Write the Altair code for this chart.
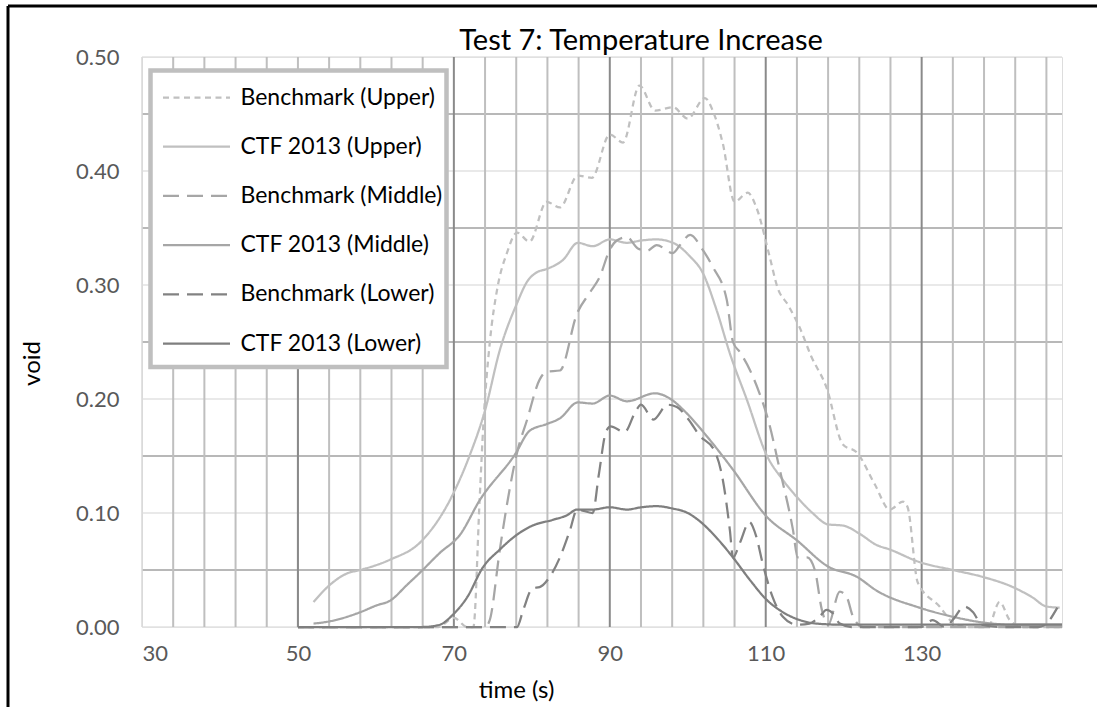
import altair as alt
import pandas as pd

# ---------------- data ----------------
series_names = ["Benchmark (Upper)", "CTF 2013 (Upper)", "Benchmark (Middle)",
                "CTF 2013 (Middle)", "Benchmark (Lower)", "CTF 2013 (Lower)"]
series_colors = ["#c0c0c0", "#c0c0c0", "#a6a6a6", "#a6a6a6", "#828282", "#7f7f7f"]
series_dash = [[6, 4.5], [1, 0], [16, 8], [1, 0], [16, 8], [1, 0]]

bu_x = [50, 60, 68, 70, 71.7, 72.5, 73.3, 73.8, 74.6, 75.6, 76.8, 78.1, 79.7, 81.9, 83.6,
        85.9, 87.7, 90.0, 91.7, 93.8, 95.8, 98.1, 100.0, 102.2, 103.2, 104.5, 106.0,
        107.7, 108.8, 110.5, 111.5, 112.9, 114.4, 115.8, 117.8, 119.9, 121.7, 124.0,
        125.9, 127.6, 128.2, 129.5, 132.3, 134.0, 136.0, 138.5, 140.0, 141.3, 143.0, 148]
bu_y = [0, 0, 0, 0.008, 0.0, 0.0, 0.111, 0.18, 0.249, 0.298, 0.328, 0.346, 0.338, 0.373, 0.368,
        0.396, 0.394, 0.432, 0.425, 0.475, 0.453, 0.456, 0.446, 0.464, 0.453, 0.424, 0.373,
        0.381, 0.368, 0.325, 0.298, 0.282, 0.262, 0.238, 0.21, 0.16, 0.153, 0.125,
        0.103, 0.11, 0.105, 0.039, 0.018, 0.004, 0.0, 0.0, 0.022, 0.006, 0.0, 0.0]

cu_x = [52, 54.1, 56.3, 58, 61.8, 65.8, 69.7, 72.0, 74.0, 75.9, 78.1, 79.4, 80.6, 81.9, 84,
        85.9, 87.8, 90, 92.2, 94, 96, 98.1, 100.3, 101.9, 103.7, 105.4, 107.6, 110.1,
        112.2, 114.4, 116, 118, 119.9, 122, 124.2, 125.9, 129.7, 134, 137.8, 141.7,
        144.2, 146, 147.7]
cu_y = [0.022, 0.037, 0.047, 0.05, 0.059, 0.075, 0.114, 0.15, 0.19, 0.243, 0.284, 0.303, 0.311,
        0.314, 0.322, 0.337, 0.334, 0.34, 0.337, 0.339, 0.34, 0.337, 0.325, 0.311, 0.278,
        0.24, 0.199, 0.151, 0.129, 0.111, 0.1, 0.09, 0.089, 0.082, 0.072, 0.068, 0.057,
        0.05, 0.044, 0.035, 0.026, 0.018, 0.017]

bm_x = [50, 60, 70, 74.0, 74.6, 75.9, 76.9, 78.0, 79.4, 81, 81.9, 83.6, 85.8, 87.4, 88.7,
        90, 90.9, 92.2, 93.6, 94.8, 96, 98.1, 99, 100.3, 101.9, 103.2, 105, 105.8, 106.7,
        108, 109.2, 110.3, 111.8, 113.5, 114.1, 115.3, 116.3, 117.2, 118, 119.5, 120.4,
        121.2, 122.5, 148]
bm_y = [0, 0, 0, 0, 0.006, 0.068, 0.111, 0.15, 0.182, 0.217, 0.224, 0.225, 0.275, 0.293,
        0.307, 0.331, 0.339, 0.342, 0.332, 0.33, 0.335, 0.328, 0.335, 0.344, 0.331, 0.316,
        0.287, 0.25, 0.241, 0.225, 0.205, 0.182, 0.138, 0.085, 0.061, 0.061, 0.05, 0.015,
        0.002, 0.031, 0.026, 0.009, 0.0, 0.0]

cm_x = [52, 54.1, 58, 60.1, 61.8, 64, 66, 67.3, 68.2, 70.8, 73.3, 77.9, 79.7, 81.9, 83.6,
        85.9, 87.8, 90, 92.2, 95.8, 97.8, 99.5, 101.5, 103.2, 105.8, 110.1, 114, 118,
        121.7, 124.2, 129.7, 134, 137.8, 142, 148]
cm_y = [0.003, 0.005, 0.013, 0.019, 0.023, 0.037, 0.05, 0.059, 0.065, 0.081, 0.111, 0.152,
        0.172, 0.178, 0.183, 0.197, 0.196, 0.203, 0.198, 0.205, 0.2, 0.19, 0.175, 0.161,
        0.138, 0.097, 0.076, 0.053, 0.044, 0.032, 0.017, 0.009, 0.004, 0.002, 0.002]

bl_x = [50, 60, 70, 75, 77.6, 78.1, 78.9, 80.1, 81, 82.3, 83.6, 84.9, 85.8, 87.8, 88.6,
        89.5, 90.1, 91.9, 93.3, 94, 95.6, 97.4, 98.6, 100.1, 101.5, 103.4, 104.5, 105.4,
        105.8, 106.7, 107.9, 108.8, 109.6, 110.9, 112.2, 114, 115.6, 116.9, 117.8, 118.6,
        119.5, 121, 130, 131.4, 133, 134.2, 135.4, 136.6, 137.7, 140, 145, 146, 147.4]
bl_y = [0, 0, 0, 0, 0, 0, 0.015, 0.034, 0.035, 0.044, 0.061, 0.085, 0.103, 0.1, 0.134,
        0.171, 0.176, 0.171, 0.189, 0.195, 0.182, 0.195, 0.193, 0.182, 0.168, 0.155,
        0.129, 0.085, 0.061, 0.074, 0.092, 0.079, 0.056, 0.026, 0.009, 0.002, 0.003,
        0.009, 0.015, 0.012, 0.003, 0, 0, 0.006, 0.0, 0.008, 0.018, 0.013, 0.002, 0, 0,
        0.003, 0.017]

cl_x = [50, 60, 66, 68.2, 69.9, 71.7, 73.7, 75.9, 78.1, 80.1, 82.7, 84.5, 85.8, 87.8, 90,
        92.2, 94, 96, 98, 100, 101.5, 103.6, 105.8, 108, 110.1, 112.2, 114.4, 116.5, 120, 148]
cl_y = [0, 0, 0, 0.002, 0.011, 0.026, 0.052, 0.068, 0.081, 0.089, 0.094, 0.098, 0.103,
        0.103, 0.105, 0.103, 0.105, 0.106, 0.104, 0.1, 0.093, 0.079, 0.061, 0.041, 0.024,
        0.013, 0.006, 0.003, 0.002, 0.002]

all_x = [bu_x, cu_x, bm_x, cm_x, bl_x, cl_x]
all_y = [bu_y, cu_y, bm_y, cm_y, bl_y, cl_y]

x_ticks = [30, 50, 70, 90, 110, 130]
y_ticks = [0.0, 0.1, 0.2, 0.3, 0.4, 0.5]
minor_x = [34, 38, 42, 46, 50, 54, 58, 62, 66, 74, 78, 82, 86, 94, 98, 102, 106,
           114, 118, 122, 126, 134, 138, 142, 146]
major_x = [70, 90, 110, 130]
edge_x = [30]
hgrid_dark = [0.05, 0.15, 0.25, 0.35, 0.45]
hgrid_light = [0.0, 0.1, 0.2, 0.3, 0.4, 0.5]
seg50 = {"x": [50], "y": [0.0], "y2": [0.3]}

title_text = ["Test 7: Temperature Increase"]
x_title = "time (s)"
y_title = "void"

# ---------------- build ----------------
rows = []
for name, xs_, ys_ in zip(series_names, all_x, all_y):
    for i, (xv, yv) in enumerate(zip(xs_, ys_)):
        rows.append({"series": name, "x": xv, "y": yv, "i": i})
df = pd.DataFrame(rows)

W, H = 920, 570
FONT = "Lato"
xs = alt.Scale(domain=[30, 148], nice=False, zero=False)
ys = alt.Scale(domain=[0, 0.5], nice=False)

x_axis = alt.Axis(values=x_ticks, format="d", grid=False, domain=False, ticks=False,
                  labelFont=FONT, labelFontSize=22, labelColor="#595959",
                  labelPadding=16, titleFont=FONT, titleFontSize=24,
                  titleFontWeight="normal", titleColor="#000000",
                  titleX=374, titleY=63, titleAlign="center", titleBaseline="middle")
y_axis = alt.Axis(values=y_ticks, format=".2f", grid=False, domain=False, ticks=False,
                  labelFont=FONT, labelFontSize=22, labelColor="#595959",
                  labelPadding=23, titleFont=FONT, titleFontSize=24,
                  titleFontWeight="normal", titleColor="#000000",
                  titleX=-110, titleY=306, titleAngle=270,
                  titleAlign="center", titleBaseline="middle")


def X(field="x"):
    return alt.X(f"{field}:Q", scale=xs, axis=x_axis, title=x_title)


def Y(field="y"):
    return alt.Y(f"{field}:Q", scale=ys, axis=y_axis, title=y_title)


def vrules(vals, color, width):
    return alt.Chart(pd.DataFrame({"x": vals})).mark_rule(color=color, strokeWidth=width).encode(
        x=X())


def hrules(vals, color, width):
    return alt.Chart(pd.DataFrame({"y": vals})).mark_rule(color=color, strokeWidth=width).encode(
        y=Y())


g_hl = hrules(hgrid_light, "#e2e2e2", 1.5)
g_hd = hrules(hgrid_dark, "#b8b8b8", 2)
g_edge = vrules(edge_x, "#d9d9d9", 1.5)
g_minor = vrules(minor_x, "#bfbfbf", 2)
g_major = vrules(major_x, "#8a8a8a", 2)
g_seg = alt.Chart(pd.DataFrame(seg50)).mark_rule(color="#8a8a8a", strokeWidth=2).encode(
    x=X(), y=Y(), y2="y2:Q")

legend = alt.Legend(
    orient="none", legendX=8.5, legendY=13.5, title=None,
    symbolType="stroke", symbolSize=4489, symbolStrokeWidth=2.25,
    labelFont=FONT, labelFontSize=23, labelColor="#000000", labelOffset=9,
    labelLimit=500, padding=11, rowPadding=17.2, clipHeight=32,
    strokeColor="transparent", fillColor="transparent",
)

lines = alt.Chart(df).mark_line(interpolate="monotone", strokeWidth=2.25).encode(
    x=X(), y=Y(),
    color=alt.Color("series:N", scale=alt.Scale(domain=series_names, range=series_colors),
                    legend=legend),
    strokeDash=alt.StrokeDash("series:N",
                              scale=alt.Scale(domain=series_names, range=series_dash),
                              legend=legend),
    order="i:Q",
)

# legend box (drawn under the legend entries, over the data lines)
legend_box = alt.Chart(pd.DataFrame({"a": [0]})).mark_rect(
    fill="#ffffff", stroke="#bfbfbf", strokeWidth=4.5
).encode(x=alt.value(8.5), x2=alt.value(304.5), y=alt.value(13.5), y2=alt.value(310))

title_mark = alt.Chart(pd.DataFrame({"t": title_text})).mark_text(
    font=FONT, fontSize=29, color="#000000", align="center", baseline="alphabetic"
).encode(text="t:N", x=alt.value(499), y=alt.value(-7))

border_df = pd.DataFrame({"a": [0]})
border_left = alt.Chart(border_df).mark_rule(color="#000000", strokeWidth=3).encode(
    x=alt.value(-134), y=alt.value(-51), y2=alt.value(660))
border_top = alt.Chart(border_df).mark_rule(color="#000000", strokeWidth=3).encode(
    x=alt.value(-134), x2=alt.value(965), y=alt.value(-51))

chart = alt.layer(
    g_hl, g_hd, g_edge, g_minor, g_major, g_seg, lines, legend_box, title_mark,
    border_left, border_top
).properties(
    width=W, height=H,
    autosize=alt.AutoSizeParams(type="none"),
    padding={"left": 142, "top": 57, "right": 35, "bottom": 80},
).configure_view(stroke=None).configure(font=FONT)

chart.save("out.html", embed_options={"renderer": "svg", "actions": False})
